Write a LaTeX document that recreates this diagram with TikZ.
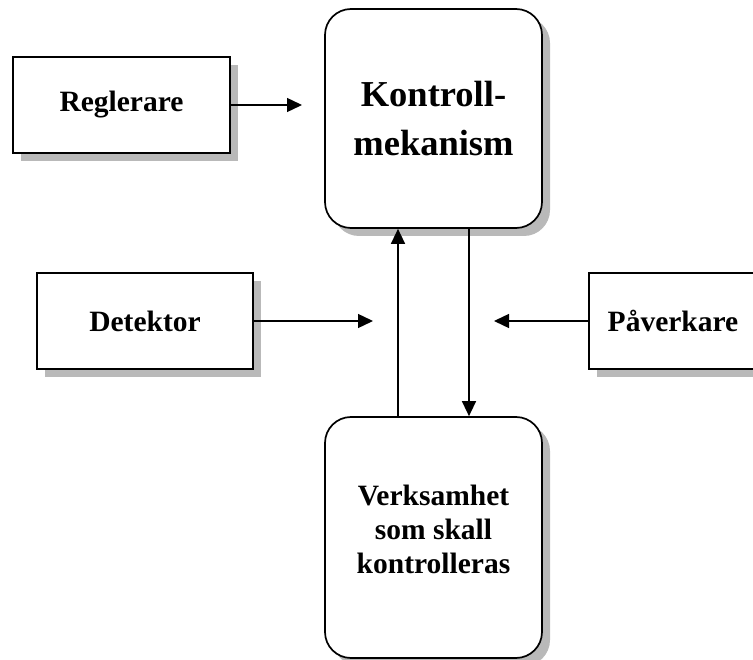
\documentclass[tikz,border=0pt]{standalone}
\usepackage{fontspec}
\setmainfont{Liberation Serif}
\usetikzlibrary{shadows,arrows.meta}
\begin{document}
\begin{tikzpicture}[x=1pt,y=-1pt,
  shadowed/.style={draw=black, line width=1.7pt, fill=white,
    drop shadow={shadow xshift=8pt, shadow yshift=-8pt, fill=gray!55, opacity=1}},
  sqbox/.style={shadowed, minimum height=96pt, inner sep=0pt,
    font=\bfseries\fontsize{29.5}{35}\selectfont},
  rbox/.style={shadowed, rounded corners=26pt, minimum width=217pt, inner sep=0pt},
  conn/.style={line width=1.4pt, -{Triangle[length=15pt,width=14pt]}}]
\useasboundingbox (0,0) rectangle (753,660);
\clip (0,0) rectangle (753,660);
\node[sqbox, minimum width=217pt] (reg) at (121.5,105) {Reglerare};
\node[sqbox, minimum width=216pt] (det) at (145,321) {Detektor};
\node[sqbox, minimum width=168pt] (pav) at (673,321) {Påverkare};
\node[rbox, minimum height=219pt, align=center,
  font=\bfseries\fontsize{36.5}{49}\selectfont] (kon) at (433.5,118.5) {Kontroll-\\mekanism};
\node[rbox, minimum height=241pt] (ver) at (433.5,537.5) {};
\node[align=center, font=\bfseries\fontsize{29.5}{34}\selectfont] (vert) at (433.5,529) {Verksamhet\\som skall\\kontrolleras};
\coordinate (regend) at (302,105);
\coordinate (detend) at (373,321);
\coordinate (pavend) at (494,321);
\draw[conn] (reg.east) -- (regend);
\draw[conn] (det.east) -- (detend);
\draw[conn] (pav.west) -- (pavend);
\draw[conn] (ver.north -| 398,0) -- (kon.south -| 398,0);
\draw[conn] (kon.south -| 469,0) -- (ver.north -| 469,0);
\end{tikzpicture}
\end{document}
